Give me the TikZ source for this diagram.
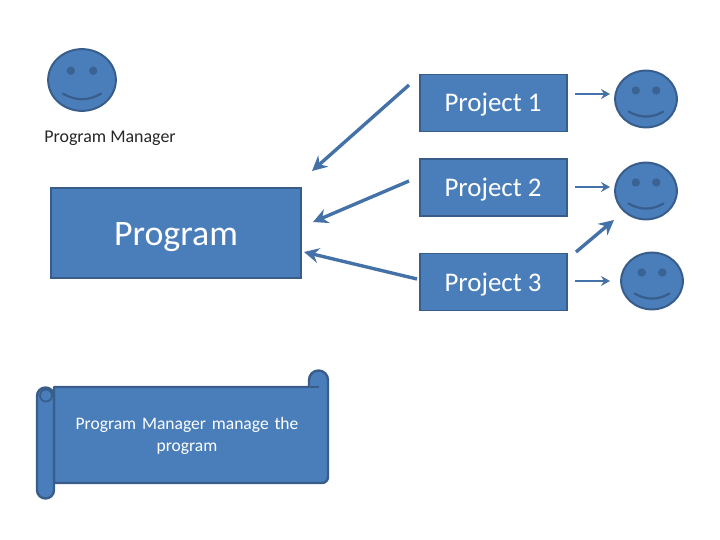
\documentclass[tikz,border=0pt]{standalone}
\usepackage{fontspec}
\setmainfont{Carlito}
\usetikzlibrary{shapes.geometric,arrows.meta,calc}
\definecolor{fillb}{HTML}{4A7EBB}
\definecolor{edgeb}{HTML}{385D8A}
\definecolor{darkb}{HTML}{3A6293}
\definecolor{arrowb}{HTML}{4472A8}
\tikzset{
  box/.style={draw=edgeb,line width=2pt,fill=fillb,text=white,inner sep=0pt,anchor=center},
  face/.style={ellipse,draw=edgeb,line width=2pt,fill=fillb,inner sep=0pt,minimum width=#1},
  eye/.style={fill=darkb},
  mouth/.style={draw=edgeb,line width=2.2pt,line cap=round},
  conn/.style={draw=arrowb,line width=3.4pt,-{Stealth[length=15pt,width=15pt,inset=5pt]}},
  thin conn/.style={draw=arrowb,line width=2.2pt,-{Stealth[length=9pt,width=10pt,inset=3pt]}},
  scrollb/.style={fill=fillb,draw=edgeb,line width=2.4pt,line join=round},
  lbl/.style={text=black!85,font=\fontsize{18}{22}\selectfont,align=center},
  projbox/.style={box,minimum width=147bp,minimum height=57bp,font=\fontsize{27}{32}\selectfont,text height=23bp,text depth=5bp},
}
\newcommand{\smileyat}[5]{% name, cx, cy, w, h
  \node[face=#4 pt,minimum height=#5 pt] (#1) at (#2,#3) {};
  \draw[mouth] ($(#1.center)+(-0.28*#4,0.22*#5)$) to[bend right=30] ($(#1.center)+(0.28*#4,0.22*#5)$);
  \fill[eye] ($(#1.center)+(-0.165*#4,-0.15*#5)$) circle (4.2pt);
  \fill[eye] ($(#1.center)+(0.165*#4,-0.15*#5)$) circle (4.2pt);
}
\begin{document}
\begin{tikzpicture}[x=1bp,y=-1bp]
\useasboundingbox (0,0) rectangle (720,540);
% faces
\smileyat{pm}{82}{80}{68}{62}
\smileyat{f1}{646}{99}{62}{57}
\smileyat{f2}{646}{191}{62}{57}
\smileyat{f3}{652}{281}{62}{57}
\node[lbl] (pmlabel) at (110,138) {Program Manager};
% project boxes
\node[projbox] (p1) at (493,103) {Project 1};
\node[projbox] (p2) at (493,187.5) {Project 2};
\node[projbox] (p3) at (493,282) {Project 3};
% program box
\node[box,minimum width=250bp,minimum height=90bp] (prog) at (176,233) {};
\node[text=white,font=\fontsize{36}{40}\selectfont] (progt) at (176,237) {Program};
% scroll
\path[scrollb] (54,387) -- (309,387) -- (309,380) arc[start angle=180,end angle=360,radius=9.5] -- (328,477) arc[start angle=0,end angle=90,radius=6] -- (54,483) -- cycle;
\draw[edgeb,line width=2pt] (309,387) -- (319,387);
\path[scrollb] (37,396) -- (37,490) arc[start angle=180,end angle=0,radius=8.5] -- (54,396) arc[start angle=0,end angle=-180,radius=8.5] -- cycle;
\fill[fillb,draw=edgeb,line width=1.8pt] (46,395.5) circle (6);
\node[text=white,font=\fontsize{17.6}{22}\selectfont,align=center,text width=260bp] (scrollt) at (187,436) {Program Manager manage the\\program};
% connectors
\coordinate (a1s) at (409,85);
\coordinate (a1e) at (312,171);
\coordinate (a2s) at (409,181);
\coordinate (a2e) at (313,222);
\coordinate (a3s) at (417,279);
\coordinate (a3e) at (304,252);
\coordinate (b1s) at (575,94);
\coordinate (b1e) at (610,94);
\coordinate (b2s) at (575,187);
\coordinate (b2e) at (610,187);
\coordinate (b3s) at (575,281);
\coordinate (b3e) at (610,281);
\coordinate (b4s) at (576,252);
\coordinate (b4e) at (614,220);
\draw[conn] (a1s) -- (a1e);
\draw[conn] (a2s) -- (a2e);
\draw[conn] (a3s) -- (a3e);
\draw[thin conn] (b1s) -- (b1e);
\draw[thin conn] (b2s) -- (b2e);
\draw[thin conn] (b3s) -- (b3e);
\draw[conn] (b4s) -- (b4e);
\end{tikzpicture}
\end{document}
